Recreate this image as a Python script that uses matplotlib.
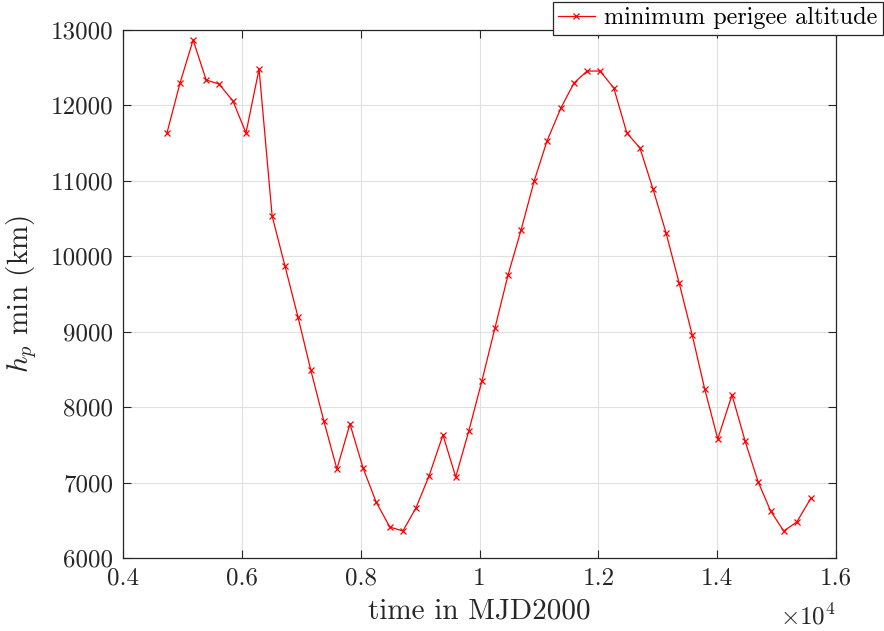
import matplotlib
matplotlib.use("Agg")
import matplotlib.pyplot as plt
from matplotlib.ticker import FuncFormatter

# Minimum perigee altitude over time (MJD2000 days, km)
mjd2000 = [4740, 4960, 5180, 5400, 5616, 5850, 6070, 6290, 6510, 6726,
           6945, 7160, 7380, 7600, 7820, 8040, 8260, 8490, 8710, 8930,
           9150, 9385, 9600, 9820, 10040, 10260, 10480, 10700, 10920, 11136,
           11370, 11590, 11810, 12030, 12260, 12480, 12700, 12920, 13140, 13360,
           13580, 13790, 14010, 14250, 14470, 14690, 14900, 15120, 15340, 15580]
hp_min = [11635, 12297, 12867, 12337, 12284, 12059, 11635, 12483, 10534, 9871,
          9195, 8493, 7816, 7180, 7777, 7193, 6743, 6411, 6358, 6663,
          7087, 7631, 7074, 7684, 8347, 9049, 9752, 10349, 10998, 11528,
          11966, 12297, 12456, 12456, 12231, 11635, 11436, 10892, 10309, 9646,
          8956, 8241, 7578, 8161, 7551, 7008, 6623, 6358, 6477, 6796]
x_ticks = [4000, 6000, 8000, 10000, 12000, 14000, 16000]
y_ticks = [6000, 7000, 8000, 9000, 10000, 11000, 12000, 13000]

plt.rcParams["font.family"] = "serif"
plt.rcParams["font.serif"] = ["cmr10", "DejaVu Serif"]
plt.rcParams["mathtext.fontset"] = "cm"
plt.rcParams["axes.unicode_minus"] = False
plt.rcParams["axes.formatter.use_mathtext"] = True

ink = "#262626"
fig = plt.figure(figsize=(8.84, 6.31), dpi=100)
ax = fig.add_axes([123 / 884, 73 / 631, 713 / 884, 528 / 631])

ax.plot(mjd2000, hp_min, color="#ff0000", linewidth=0.9, marker="x",
        markersize=5, markeredgewidth=0.9, label="minimum perigee altitude")

ax.set_xlim(4000, 16000)
ax.set_ylim(6000, 13000)
ax.set_xticks(x_ticks)
ax.set_yticks(y_ticks)
ax.xaxis.set_major_formatter(FuncFormatter(lambda v, p: "%g" % (v / 1e4)))
ax.yaxis.set_major_formatter(FuncFormatter(lambda v, p: "%d" % v))
ax.tick_params(direction="in", top=True, right=True, length=6, width=0.8,
               labelsize=18, colors=ink, pad=7)
ax.grid(True, color="#e0e0e0", linewidth=0.8)
ax.set_axisbelow(True)
for s in ax.spines.values():
    s.set_color(ink)
    s.set_linewidth(0.9)

ax.set_xlabel("time in MJD2000", fontsize=21, color=ink, labelpad=6)
ax.set_ylabel(r"$h_p$ min (km)", fontsize=21, color=ink, labelpad=8)
ax.text(1.0, -0.087, r"$\times10^{4}$", transform=ax.transAxes,
        ha="right", va="top", fontsize=18, color=ink)

leg = fig.legend(loc="upper right", bbox_to_anchor=(0.999, 0.997),
                 fontsize=17.5, frameon=True, fancybox=False, borderpad=0.22,
                 handlelength=1.5, handletextpad=0.4, borderaxespad=0)
leg.get_frame().set_edgecolor(ink)
leg.get_frame().set_linewidth(0.9)
leg.get_frame().set_alpha(1)

fig.savefig("out.png", dpi=100)
